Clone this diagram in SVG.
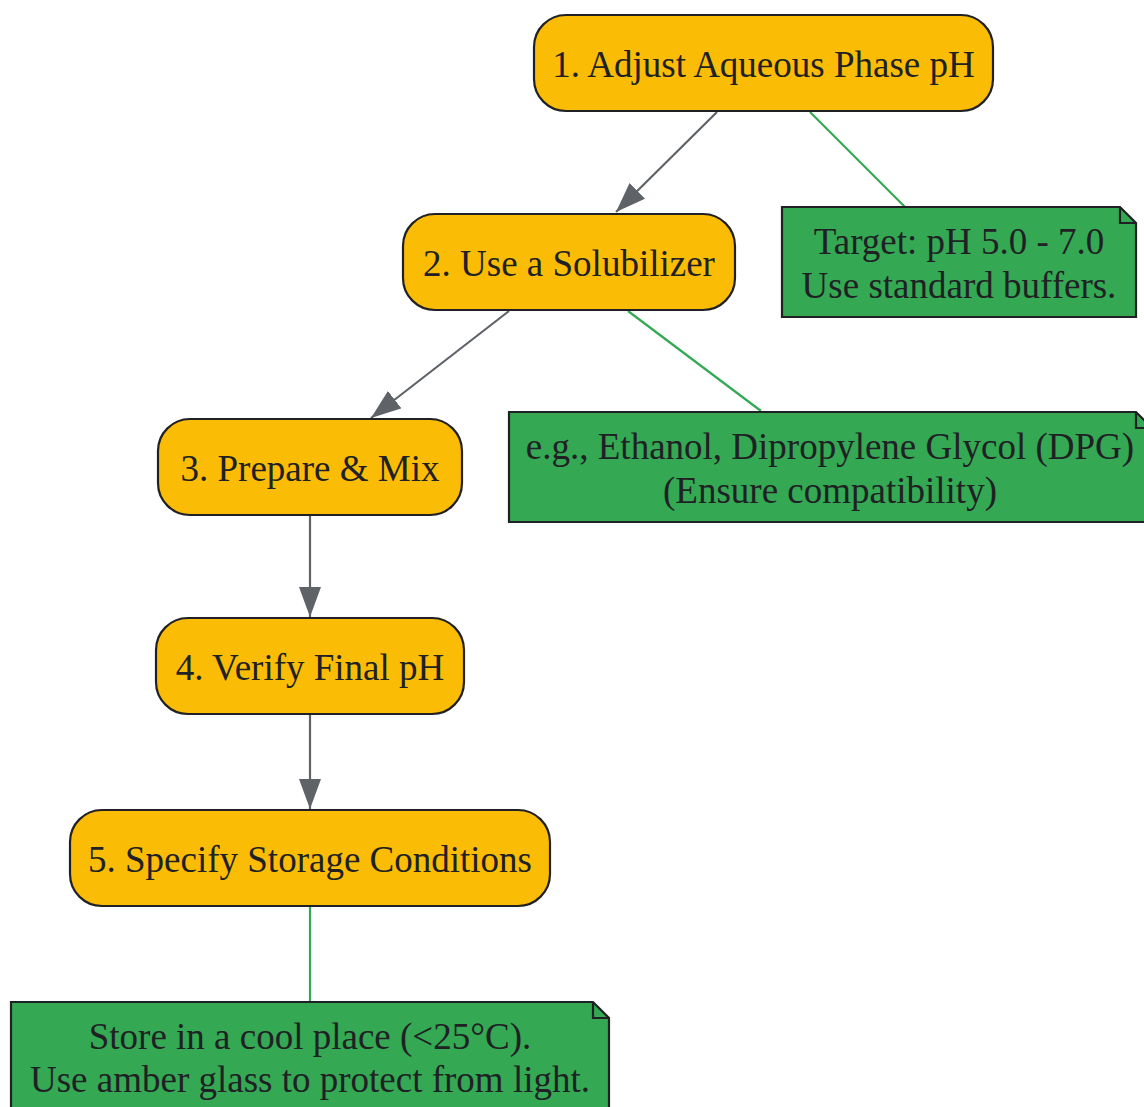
<svg xmlns="http://www.w3.org/2000/svg" width="1144" height="1107" viewBox="0 0 1144 1107">
<style>
.step{fill:#FBBC05;stroke:#202124;stroke-width:2.2}
.note{fill:#34A853;stroke:#202124;stroke-width:2.2}
.fold{fill:none;stroke:#202124;stroke-width:2.2}
text{font-family:"Liberation Serif","Times New Roman",serif;font-size:37px;fill:#202124;text-anchor:middle}
.e{stroke:#5F6368;stroke-width:2.2;fill:none}
.g{stroke:#34A853;stroke-width:2.2;fill:none}
</style>
<defs>
<marker id="a" viewBox="0 0 30 22" refX="30" refY="11" markerWidth="30" markerHeight="22" markerUnits="userSpaceOnUse" orient="auto">
<path d="M0,0 L30,11 L0,22 Z" fill="#5F6368"/>
</marker>
</defs>
<g id="connectors">
<line class="e" x1="717" y1="112" x2="616" y2="212" marker-end="url(#a)"/>
<line class="g" x1="810" y1="112" x2="905" y2="207"/>
<line class="e" x1="509" y1="311" x2="371" y2="418" marker-end="url(#a)"/>
<line class="g" x1="628" y1="311" x2="761" y2="411"/>
<line class="e" x1="310" y1="516" x2="310" y2="617" marker-end="url(#a)"/>
<line class="e" x1="310" y1="715" x2="310" y2="809" marker-end="url(#a)"/>
<line class="g" x1="310" y1="907" x2="310" y2="1001"/>
</g>
<g id="n1">
<rect class="step" x="534" y="15" width="459" height="96" rx="32"/>
<text x="763.5" y="77">1. Adjust Aqueous Phase pH</text>
</g>
<g id="n2">
<rect class="step" x="403" y="214" width="332" height="96" rx="32"/>
<text x="569" y="276">2. Use a Solubilizer</text>
</g>
<g id="n3">
<rect class="step" x="158" y="419" width="304" height="96" rx="32"/>
<text x="310" y="481">3. Prepare &amp; Mix</text>
</g>
<g id="n4">
<rect class="step" x="156" y="618" width="308" height="96" rx="32"/>
<text x="310" y="680">4. Verify Final pH</text>
</g>
<g id="n5">
<rect class="step" x="70" y="810" width="480" height="96" rx="32"/>
<text x="310" y="872">5. Specify Storage Conditions</text>
</g>
<g id="note1">
<path class="note" d="M782,207 H1120 L1136,223 V317 H782 Z"/>
<path class="fold" d="M1120,207 V223 H1136"/>
<text x="959" y="254">Target: pH 5.0 - 7.0</text>
<text x="959" y="298">Use standard buffers.</text>
</g>
<g id="note2">
<path class="note" d="M509,412 H1136 L1152,428 V522 H509 Z"/>
<path class="fold" d="M1136,412 V428 H1152"/>
<text x="830" y="459">e.g., Ethanol, Dipropylene Glycol (DPG)</text>
<text x="830" y="503">(Ensure compatibility)</text>
</g>
<g id="note3">
<path class="note" d="M11,1002 H593 L609,1018 V1120 H11 Z"/>
<path class="fold" d="M593,1002 V1018 H609"/>
<text x="310" y="1049">Store in a cool place (&lt;25°C).</text>
<text x="310" y="1092">Use amber glass to protect from light.</text>
</g>
</svg>
